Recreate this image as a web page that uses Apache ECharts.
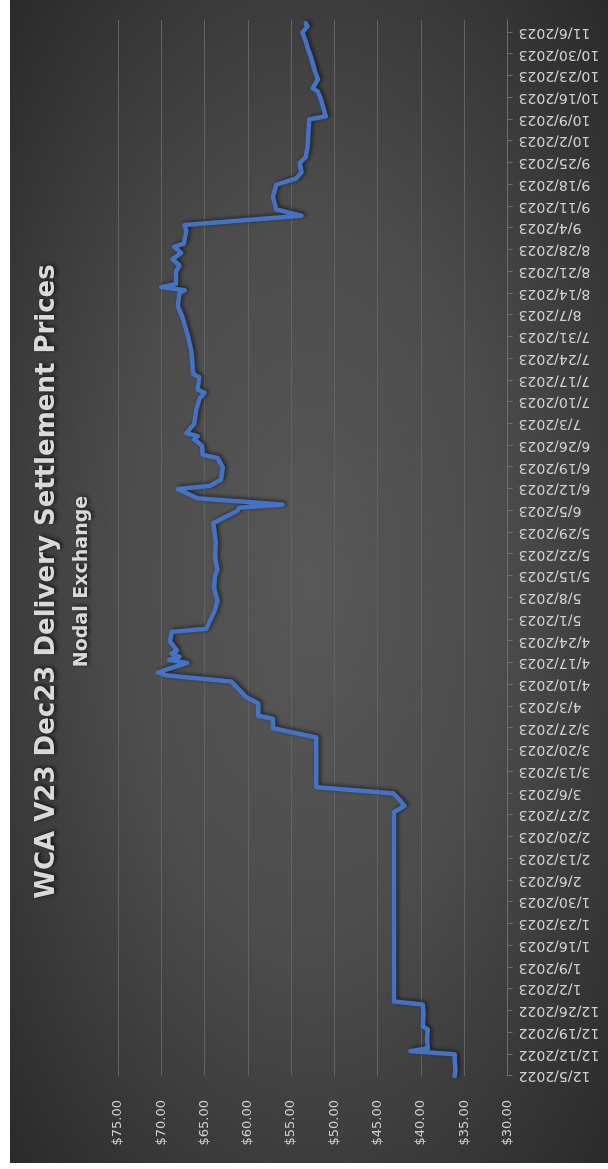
<!DOCTYPE html>
<html><head><meta charset="utf-8">
<script src="https://cdn.jsdelivr.net/npm/echarts@6/dist/echarts.min.js"></script>
<style>
html,body{margin:0;padding:0;background:#fff;width:608px;height:1169px;overflow:hidden;}
#rot{position:absolute;left:0;top:0;width:1169px;height:608px;transform-origin:0 0;transform:translateY(1169px) rotate(-90deg);background:#fff;}
#chart{position:absolute;left:6px;top:10px;width:1163px;height:598px;background:radial-gradient(ellipse at 50% 50%, #585858 0%, #4c4c4c 45%, #2a2a2a 100%);}
</style></head><body>
<div id="rot"><div id="chart"></div></div>
<script>
const titleText = 'WCA V23 Dec23 Delivery Settlement Prices';
const subtitleText = 'Nodal Exchange';
const startDate = '2022-12-05';
const endDate = '2023-11-10';
const priceMin = 30, priceMax = 75, priceStep = 5;
const dates = [
 '2022-12-05','2022-12-07','2022-12-10','2022-12-12','2022-12-13','2022-12-14','2022-12-17','2022-12-20','2022-12-21','2022-12-25',
 '2022-12-28','2022-12-29','2023-01-04','2023-01-19','2023-02-03','2023-02-18','2023-02-28','2023-03-02','2023-03-04','2023-03-06',
 '2023-03-08','2023-03-15','2023-03-24','2023-03-27','2023-03-30','2023-03-31','2023-04-04','2023-04-06','2023-04-11','2023-04-13',
 '2023-04-14','2023-04-17','2023-04-18','2023-04-19','2023-04-20','2023-04-21','2023-04-24','2023-04-27','2023-04-28','2023-05-04',
 '2023-05-07','2023-05-11','2023-05-15','2023-05-17','2023-05-21','2023-05-26','2023-06-01','2023-06-05','2023-06-06','2023-06-07',
 '2023-06-09','2023-06-12','2023-06-13','2023-06-15','2023-06-19','2023-06-22','2023-06-23','2023-06-26','2023-06-28','2023-06-29',
 '2023-06-30','2023-07-03','2023-07-07','2023-07-11','2023-07-13','2023-07-14','2023-07-18','2023-07-19','2023-07-26','2023-07-31',
 '2023-08-06','2023-08-10','2023-08-14','2023-08-15','2023-08-16','2023-08-17','2023-08-21','2023-08-23','2023-08-25','2023-08-27',
 '2023-08-29','2023-08-30','2023-09-03','2023-09-05','2023-09-08','2023-09-10','2023-09-14','2023-09-18','2023-09-20','2023-09-22',
 '2023-09-25','2023-09-27','2023-09-30','2023-10-09','2023-10-10','2023-10-15','2023-10-18','2023-10-19','2023-10-22','2023-10-25',
 '2023-10-29','2023-11-01','2023-11-03','2023-11-06','2023-11-08','2023-11-09'
];
const prices = [
 36.1,36.0,36.1,36.1,41.2,39.2,39.3,39.2,39.8,39.7,
 39.8,43.1,43.1,43.1,43.1,43.1,43.1,41.9,42.5,43.2,
 52.1,52.1,52.1,57.1,57.1,58.8,58.8,60.2,61.9,69.4,
 70.4,67.0,69.1,67.9,68.8,68.2,69.0,68.8,64.8,63.8,
 63.5,63.9,63.8,63.5,63.8,63.7,64.0,61.2,61.0,56.0,
 65.8,68.1,64.4,63.1,62.9,63.5,65.2,65.3,66.2,65.8,
 67.1,66.2,66.0,65.6,65.0,65.8,65.6,66.3,66.5,66.9,
 67.5,68.1,67.9,67.3,70.0,68.3,68.3,67.9,68.7,67.7,
 68.5,67.4,67.1,67.3,53.8,56.7,57.1,56.7,54.4,53.8,
 54.0,53.3,53.1,52.9,51.0,51.5,51.9,52.5,51.9,52.3,
 52.7,53.1,53.3,53.7,53.1,53.3
];
const DAY = 86400000;
const t0 = Date.parse(startDate + 'T00:00:00Z');
const dayOf = s => Math.round((Date.parse(s + 'T00:00:00Z') - t0) / DAY);
const lastDay = dayOf(endDate);
const weekTicks = [];
for (let d = 0; d <= lastDay; d += 7) weekTicks.push(d);
const fmtDate = d => { const dt = new Date(t0 + d * DAY); return (dt.getUTCMonth()+1) + '/' + dt.getUTCDate() + '/' + dt.getUTCFullYear(); };
const seriesData = dates.map((s, i) => [dayOf(s), prices[i]]);

const chart = echarts.init(document.getElementById('chart'), null, {renderer: 'canvas'});
chart.setOption({
  backgroundColor: 'transparent',
  animation: false,
  title: [
    {text: titleText, left: 'center', top: 19,
     textStyle: {color: '#d9d9d9', fontFamily: 'DejaVu Sans', fontWeight: 'bold', fontSize: 26,
       textShadowColor: 'rgba(0,0,0,0.75)', textShadowBlur: 4, textShadowOffsetX: 1, textShadowOffsetY: 2}},
    {text: subtitleText, left: 'center', top: 58,
     textStyle: {color: '#d9d9d9', fontFamily: 'DejaVu Sans', fontWeight: 'bold', fontSize: 19,
       textShadowColor: 'rgba(0,0,0,0.75)', textShadowBlur: 4, textShadowOffsetX: 1, textShadowOffsetY: 2}}
  ],
  grid: {left: 87, right: 20, top: 108, bottom: 100.5, containLabel: false},
  xAxis: {
    type: 'value', min: 0, max: lastDay, interval: 7,
    axisLine: {show: true, lineStyle: {color: '#6e6e6e', width: 1}},
    axisTick: {show: true, length: 5, customValues: weekTicks, lineStyle: {color: '#6e6e6e'}},
    axisLabel: {show: true, customValues: weekTicks, rotate: 90, margin: 11, formatter: v => fmtDate(v),
      color: '#d0d0d0', fontFamily: 'DejaVu Sans', fontSize: 14},
    splitLine: {show: false}
  },
  yAxis: {
    type: 'value', min: priceMin, max: priceMax, interval: priceStep,
    axisLine: {show: false}, axisTick: {show: false},
    axisLabel: {margin: 24, formatter: v => '$' + v.toFixed(2), color: '#d0d0d0', fontFamily: 'DejaVu Sans', fontSize: 13},
    splitLine: {show: true, lineStyle: {color: '#626262', width: 1}}
  },
  series: [{
    type: 'line', data: seriesData, showSymbol: false, symbol: 'none',
    lineStyle: {color: '#4472c4', width: 4.5, cap: 'round', join: 'round',
      shadowColor: 'rgba(0,0,0,0.6)', shadowBlur: 4, shadowOffsetX: 1, shadowOffsetY: 2}
  }]
});
</script>
</body></html>
